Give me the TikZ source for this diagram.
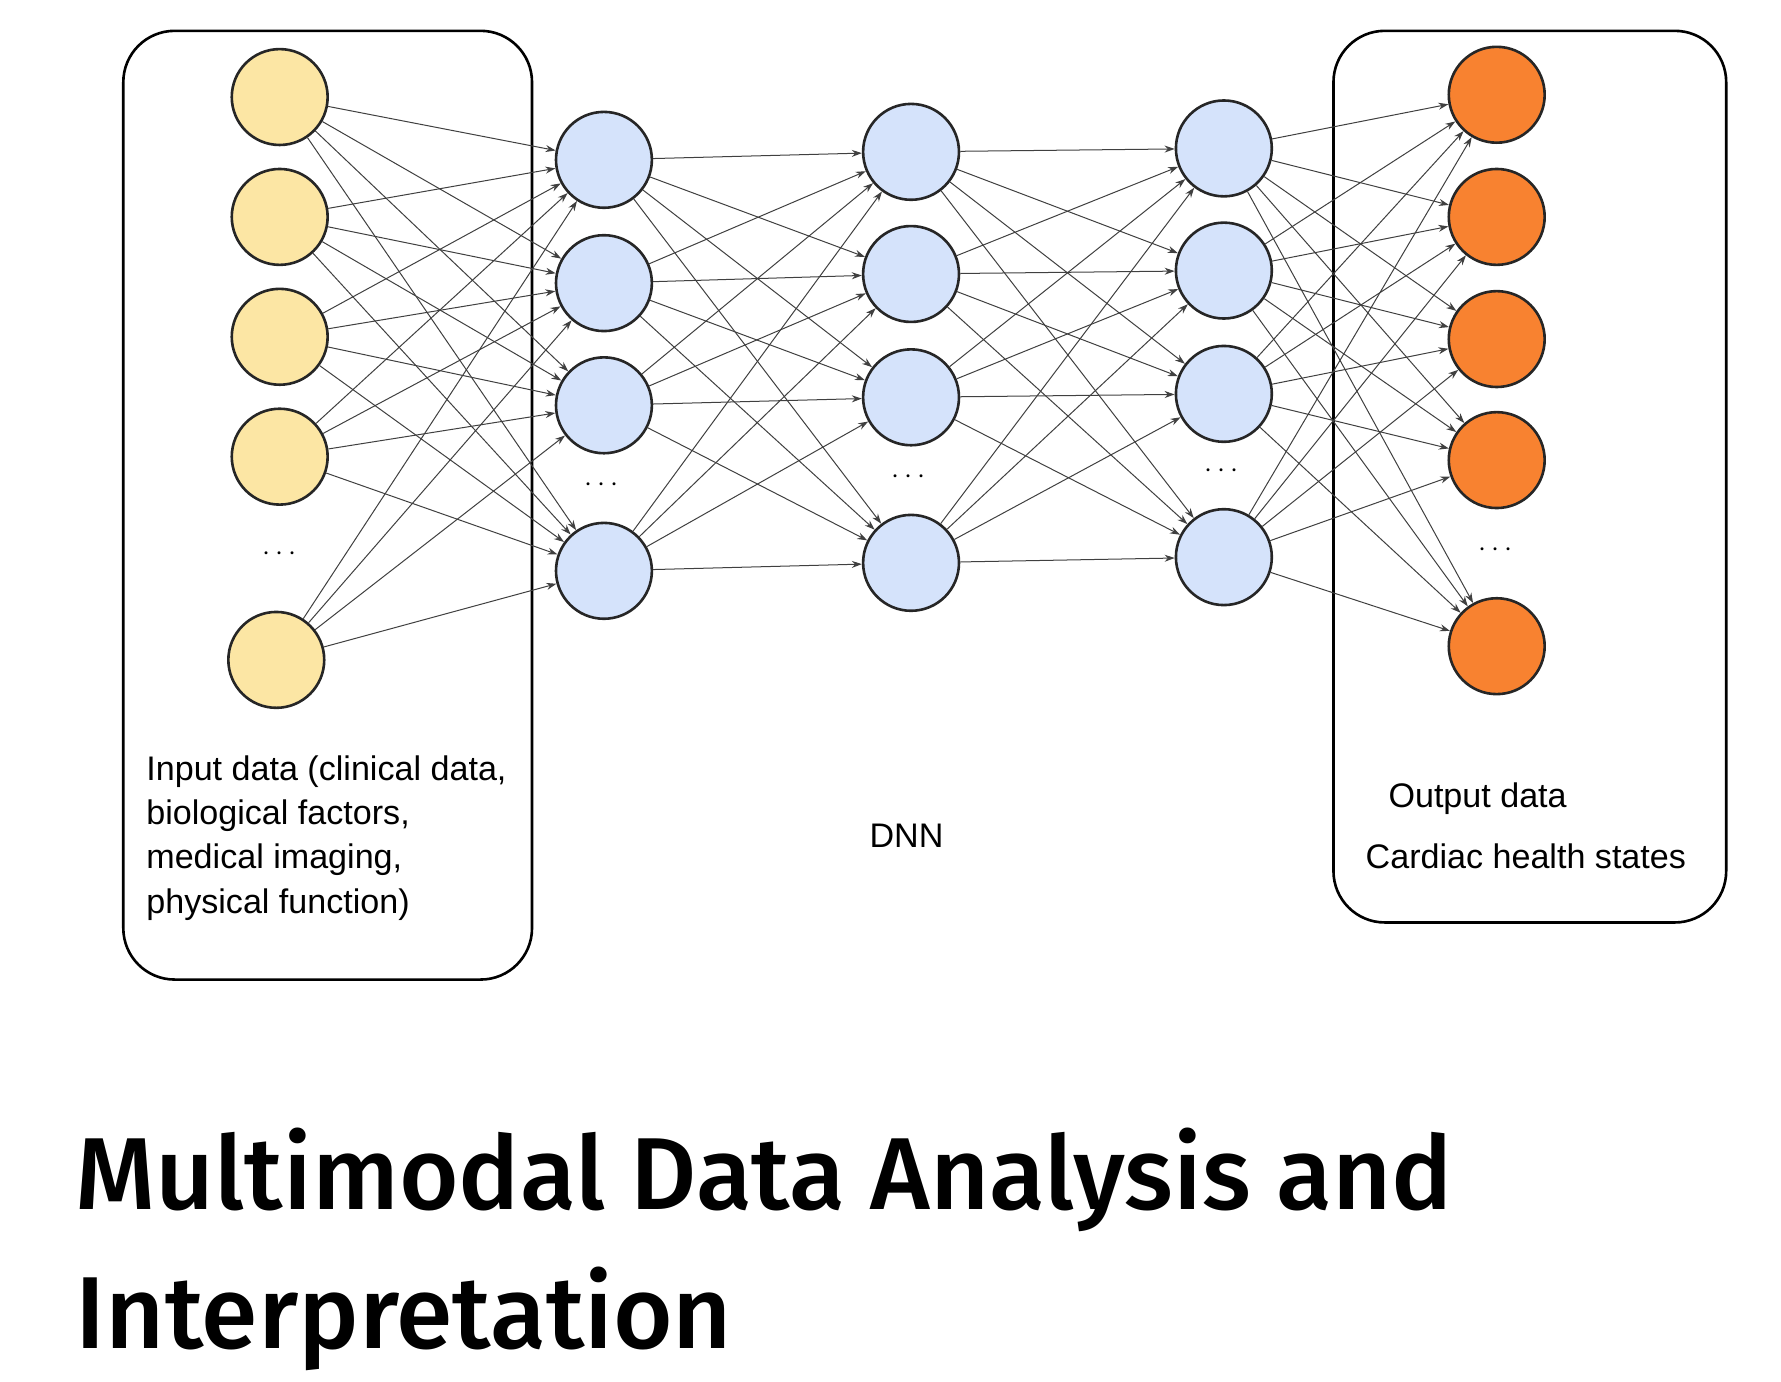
\documentclass[tikz,border=0pt]{standalone}
\usepackage{fontspec}
\setmainfont{Liberation Sans}
\newfontfamily\titlefont{Fira Sans Medium}
\usetikzlibrary{arrows.meta}
\definecolor{yel}{HTML}{FCE6A4}
\definecolor{blu}{HTML}{D5E3FB}
\definecolor{ora}{HTML}{F88230}
\begin{document}
\begin{tikzpicture}[x=0.02cm,y=-0.02cm,
  neu/.style={circle,draw=black!85,line width=1.3pt,minimum size=1.68cm,inner sep=0pt},
  inp/.style={neu,fill=yel},hid/.style={neu,fill=blu},outp/.style={neu,fill=ora},
  con/.style={draw=black!75,line width=0.5pt,-{Stealth[length=5pt,width=3.5pt]}},
  box/.style={draw=black,line width=1.3pt,rounded corners=0.9cm},
  lbl/.style={font=\fontsize{17}{22}\selectfont,align=left},
  dots/.style={font=\fontsize{14}{14}\selectfont}]
\useasboundingbox (0,0) rectangle (1560,1210);
\draw[box] (108,27) rectangle (466,858);
\draw[box] (1168,27) rectangle (1512,808);
\foreach \y [count=\i] in {85,190,295,400} \node[inp] (a\i) at (245,\y) {};
\node[inp] (a5) at (242,578) {};
\foreach \y [count=\i] in {140,248,355,500} \node[hid] (b\i) at (529,\y) {};
\foreach \y [count=\i] in {133,240,348,493} \node[hid] (c\i) at (798,\y) {};
\foreach \y [count=\i] in {130,237,345,488} \node[hid] (d\i) at (1072,\y) {};
\foreach \y [count=\i] in {83,190,297,403,566} \node[outp] (e\i) at (1311,\y) {};
\node[dots] (da) at (245,485) {$\cdots$};
\node[dots] (db) at (527,425) {$\cdots$};
\node[dots] (dc) at (796,418) {$\cdots$};
\node[dots] (dd) at (1070,413) {$\cdots$};
\node[dots] (de) at (1310,482) {$\cdots$};
\foreach \i in {1,...,5} \foreach \j in {1,...,4} \draw[con] (a\i) -- (b\j);
\foreach \i in {1,...,4} \foreach \j in {1,...,4} \draw[con] (b\i) -- (c\j);
\foreach \i in {1,...,4} \foreach \j in {1,...,4} \draw[con] (c\i) -- (d\j);
\foreach \i in {1,...,4} \foreach \j in {1,...,5} \draw[con] (d\i) -- (e\j);
\node[lbl,anchor=north west] (tin) at (122,656) {Input data (clinical data,\\biological factors,\\medical imaging,\\physical function)};
\node[lbl] (tdnn) at (794,732) {DNN};
\node[lbl,anchor=west] (tout1) at (1210,700) {Output data};
\node[lbl,anchor=west] (tout2) at (1190,750) {Cardiac health states};
\node[anchor=north west,align=left,inner sep=0pt,font=\titlefont\fontsize{51}{69}\selectfont] (title) at (66,988) {Multimodal Data Analysis and\\Interpretation};
\end{tikzpicture}
\end{document}
